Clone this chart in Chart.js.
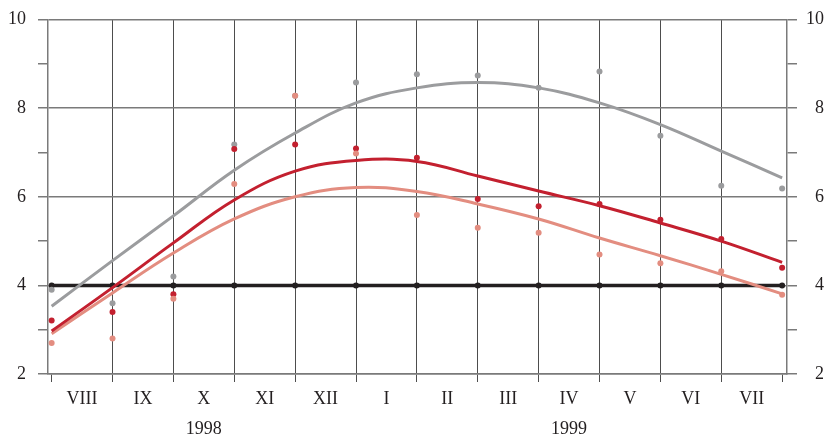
<!DOCTYPE html>
<html>
<head>
<meta charset="utf-8">
<script src="https://cdn.jsdelivr.net/npm/chart.js@4"></script>
<style>
  html, body { margin: 0; padding: 0; background: #fff; }
  #wrap { width: 828px; height: 435px; }
</style>
</head>
<body>
<div id="wrap"><canvas id="grafico" width="828" height="435"></canvas></div>
<script>
// meses (del VIII de 1998 al VII de 1999)
const meses = ["VIII", "IX", "X", "XI", "XII", "I", "II", "III", "IV", "V", "VI", "VII"];
const anios = { "X": "1998", "IV": "1999" };

// puntos observados al inicio de cada mes (13 cortes)
const puntosGris = [3.90, 3.60, 4.20, 7.18, 8.28, 8.58, 8.77, 8.74, 8.46, 8.83, 7.38, 6.25, 6.19];
const puntosRojo = [3.21, 3.40, 3.80, 7.08, 7.18, 7.09, 6.88, 5.95, 5.79, 5.84, 5.48, 5.05, 4.40];
const puntosSalmon = [2.70, 2.80, 3.70, 6.29, 8.28, 6.98, 5.59, 5.30, 5.19, 4.70, 4.50, 4.32, 3.79];

// curvas suavizadas
const curvaGris = [3.53, 4.56, 5.57, 6.60, 7.44, 8.12, 8.46, 8.58, 8.46, 8.12, 7.63, 7.03, 6.43];
const curvaRojo = [2.97, 3.95, 4.96, 5.93, 6.58, 6.82, 6.80, 6.47, 6.13, 5.80, 5.41, 5.00, 4.52];
const curvaSalmon = [2.91, 3.83, 4.73, 5.50, 6.00, 6.21, 6.12, 5.84, 5.50, 5.07, 4.67, 4.25, 3.81];

// referencia
const nivel = [4, 4, 4, 4, 4, 4, 4, 4, 4, 4, 4, 4, 4];

const ticksY = [2, 3, 4, 5, 6, 7, 8, 9, 10];

const GRIS = "#9b9c9e";
const ROJO = "#c3202f";
const SALMON = "#e38d80";
const NEGRO = "#231f20";

const aPuntos = (arr) => arr.map((v, i) => ({ x: i, y: v }));

const fuente = { family: "'Liberation Serif', 'DejaVu Serif', serif", size: 18 };

function serieCurva(data, color) {
  return {
    type: "line",
    data: aPuntos(data),
    borderColor: color,
    borderWidth: 3,
    pointRadius: 0,
    fill: false,
    tension: 0.4,
  };
}

function seriePuntos(data, color, orden) {
  return {
    type: "scatter",
    data: aPuntos(data),
    showLine: false,
    pointRadius: 3,
    pointBackgroundColor: color,
    pointBorderWidth: 0,
    order: orden,
  };
}

const ejeY = (pos) => ({
  type: "linear",
  position: pos,
  min: 2,
  max: 10,
  afterBuildTicks: (s) => { s.ticks = ticksY.map((v) => ({ value: v })); },
  afterFit: (s) => { s.width = pos === "left" ? 48 : 37; },
  ticks: {
    font: { ...fuente, lineHeight: 0.85 },
    color: "#231f20",
    padding: pos === "left" ? 12 : 10,
    crossAlign: pos === "left" ? "near" : "far",
    callback: (v) => (v % 2 === 0 ? String(v) : ""),
  },
  border: { color: "#7a7a7a", width: 1.5 },
  grid: {
    drawOnChartArea: pos === "left",
    color: (c) => (c.tick && c.tick.value % 2 === 0 ? "#7a7a7a" : "rgba(0,0,0,0)"),
    tickColor: "#7a7a7a",
    lineWidth: 1.5,
    tickLength: 10,
  },
});

const ticksX = [];
for (let i = 0; i <= 24; i++) ticksX.push(i / 2);

new Chart(document.getElementById("grafico"), {
  data: {
    datasets: [
      { ...serieCurva(nivel, NEGRO), borderWidth: 3.5, pointRadius: 3, pointBackgroundColor: NEGRO, pointBorderWidth: 0, tension: 0, order: 6 },
      { ...serieCurva(curvaGris, GRIS), order: 5 },
      { ...serieCurva(curvaSalmon, SALMON), order: 4 },
      { ...serieCurva(curvaRojo, ROJO), order: 3 },
      seriePuntos(puntosGris, GRIS, 2),
      seriePuntos(puntosRojo, ROJO, 1),
      seriePuntos(puntosSalmon, SALMON, 0),
    ],
  },
  options: {
    responsive: false,
    animation: false,
    devicePixelRatio: 1,
    layout: { padding: { top: 18, right: 4, left: 0, bottom: 0 } },
    plugins: { legend: { display: false }, tooltip: { enabled: false } },
    scales: {
      x: {
        type: "linear",
        min: -0.06,
        max: 12.08,
        afterBuildTicks: (s) => { s.ticks = ticksX.map((v) => ({ value: v })); },
        afterFit: (s) => { s.height = 61; },
        ticks: {
          autoSkip: false,
          maxRotation: 0,
          font: { ...fuente, lineHeight: 1.667 },
          color: "#231f20",
          padding: 2,
          callback: (v) => {
            if (Number.isInteger(v)) return "";
            const m = meses[Math.floor(v)];
            return anios[m] ? [m, anios[m]] : m;
          },
        },
        border: { color: "#7a7a7a", width: 1.5 },
        grid: {
          color: (c) => {
            const v = c.tick ? c.tick.value : -1;
            return Number.isInteger(v) && v >= 1 && v <= 11 ? "#4d4d4d" : "rgba(0,0,0,0)";
          },
          tickColor: (c) => (c.tick && Number.isInteger(c.tick.value) ? "#4d4d4d" : "rgba(0,0,0,0)"),
          lineWidth: 1,
          tickLength: 8,
        },
      },
      y: ejeY("left"),
      y2: ejeY("right"),
    },
  },
});
</script>
</body>
</html>
